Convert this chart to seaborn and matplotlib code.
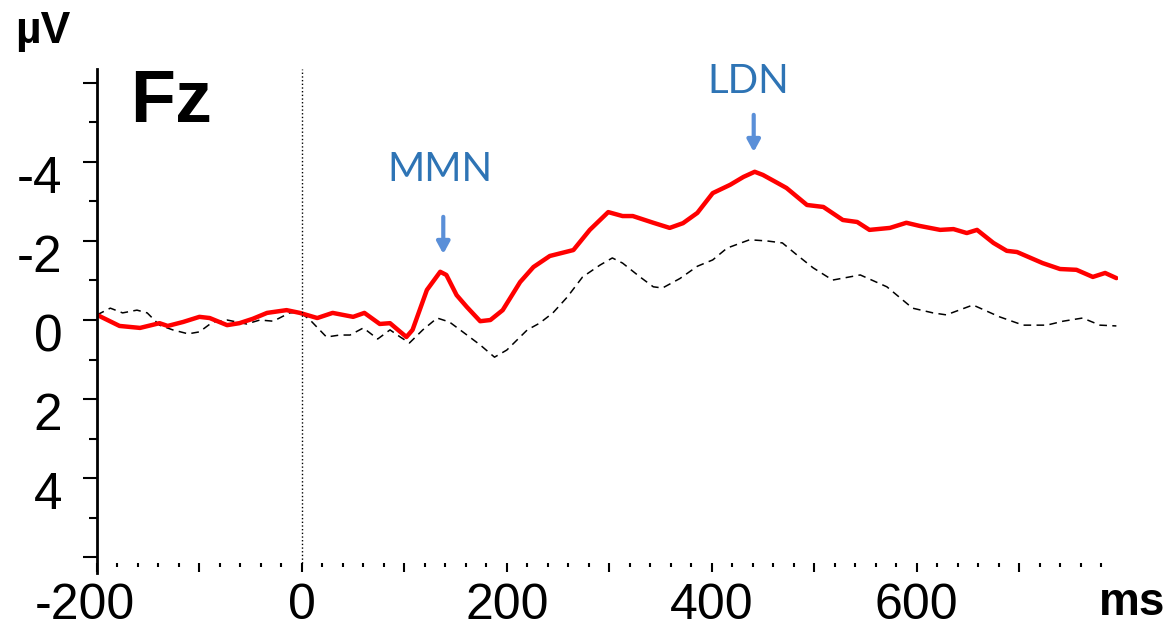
import matplotlib
matplotlib.use('Agg')
import matplotlib.pyplot as plt
import matplotlib.transforms as mtransforms
from matplotlib.ticker import MultipleLocator, FuncFormatter
import numpy as np
import pandas as pd
import seaborn as sns

# deviant (red) wave, ms / uV (negative up)
dev_ms = [-200, -178, -158, -139, -131, -116, -100, -90, -73, -61, -48, -34, -15, -2, 15, 30, 50, 61,
          76, 86, 102, 108, 122, 135, 141, 151, 161, 174, 184, 196, 213, 226, 242, 265, 281, 299,
          313, 323, 343, 359, 372, 386, 401, 418, 431, 442, 450, 464, 473, 493, 509, 528, 542,
          554, 574, 590, 603, 623, 636, 649, 659, 675, 688, 698, 723, 740, 756, 772, 784, 795]
dev_uv = [-0.13, 0.15, 0.2, 0.08, 0.15, 0.05, -0.08, -0.05, 0.13, 0.08, -0.03, -0.18, -0.25, -0.18,
          -0.05, -0.18, -0.08, -0.18, 0.1, 0.08, 0.43, 0.25, -0.76, -1.22, -1.14, -0.63, -0.33,
          0.03, 0.0, -0.25, -0.96, -1.34, -1.62, -1.77, -2.28, -2.73, -2.63, -2.63, -2.46, -2.33,
          -2.45, -2.71, -3.21, -3.42, -3.62, -3.75, -3.67, -3.47, -3.34, -2.91, -2.86, -2.53,
          -2.48, -2.28, -2.33, -2.46, -2.38, -2.28, -2.30, -2.2, -2.28, -1.95, -1.75, -1.72,
          -1.44, -1.29, -1.27, -1.09, -1.19, -1.06]

# standard (dashed) wave
std_ms = [-200, -187, -175, -161, -151, -139, -126, -111, -100, -87, -73, -54, -41, -28, -12, -2, 8,
          24, 37, 47, 60, 74, 86, 96, 105, 118, 132, 144, 157, 174, 188, 200, 220, 232, 245, 259,
          274, 291, 303, 313, 330, 343, 352, 369, 386, 401, 415, 437, 454, 469, 483, 499, 518,
          545, 571, 596, 616, 629, 655, 681, 704, 727, 743, 762, 779, 795]
std_uv = [-0.13, -0.3, -0.18, -0.25, -0.18, 0.13, 0.25, 0.35, 0.3, 0.05, 0.0, 0.1, 0.0, 0.03, -0.18,
          -0.2, 0.0, 0.43, 0.38, 0.38, 0.2, 0.48, 0.25, 0.43, 0.58, 0.25, -0.05, 0.05, 0.3, 0.63,
          0.94, 0.76, 0.25, 0.08, -0.18, -0.58, -1.09, -1.39, -1.57, -1.44, -1.09, -0.84, -0.81,
          -1.05, -1.36, -1.52, -1.82, -2.03, -2.0, -1.95, -1.65, -1.32, -1.01, -1.14, -0.84, -0.3,
          -0.18, -0.13, -0.38, -0.08, 0.13, 0.13, 0.03, -0.05, 0.13, 0.15]

# component labels: name, text x, text y, arrow tail y, arrow tip y
comp_names = ['MMN', 'LDN']
comp_text_ms = [135, 436]
comp_text_uv = [-3.82, -6.03]
comp_arrow_ms = [138, 441]
comp_tail_uv = [-2.61, -5.19]
comp_tip_uv = [-1.67, -4.25]

sns.set_style('ticks')
plt.rcParams['font.family'] = ['Liberation Sans', 'DejaVu Sans']
plt.rcParams['axes.unicode_minus'] = False
plt.rcParams['text.color'] = 'black'

W, H = 1166, 630
fig = plt.figure(figsize=(W / 100, H / 100), dpi=100)
x_left, x_right = -200, 797
px_ms = 1.0245
ax = fig.add_axes([97 / W, 1 - 573 / H, (x_right - x_left) * px_ms / W, (573 - 69) / H])

dev = pd.DataFrame({'ms': dev_ms, 'uv': dev_uv})
std = pd.DataFrame({'ms': std_ms, 'uv': std_uv})
sns.lineplot(data=std, x='ms', y='uv', ax=ax, color='black', lw=1.1,
             dashes=False, linestyle=(0, (5, 3.5)), estimator=None)
sns.lineplot(data=dev, x='ms', y='uv', ax=ax, color='#ff0000', lw=3.2, estimator=None)

ax.set_xlim(x_left, x_right)
ax.set_ylim(6.4, -6.35)
ax.axvline(0, ymin=0.02, ymax=1, color='black', lw=1.0, ls=':')

for sp in ['top', 'right']:
    ax.spines[sp].set_visible(False)
ax.spines['left'].set_linewidth(2)
ax.spines['left'].set_color('black')
ax.spines['bottom'].set_position(('data', 6.15))
ax.spines['bottom'].set_visible(False)

ax.yaxis.set_major_locator(MultipleLocator(2))
ax.yaxis.set_minor_locator(MultipleLocator(1))
ax.yaxis.set_major_formatter(FuncFormatter(lambda v, p: '' if abs(v) > 5 else f'{v:.0f}'))
ax.xaxis.set_major_locator(MultipleLocator(100))
ax.xaxis.set_minor_locator(MultipleLocator(20))
ax.xaxis.set_major_formatter(FuncFormatter(lambda v, p: f'{v:.0f}' if round(v) % 200 == 0 else ''))

ax.tick_params(axis='both', which='both', left=True, bottom=True, direction='out')
ax.tick_params(axis='y', which='major', length=10, width=1.5, pad=15, labelsize=37,
               colors='black', labelcolor='black')
ax.tick_params(axis='y', which='minor', length=6, width=1.5, colors='black')
ax.tick_params(axis='x', which='major', length=6.5, width=1.5, pad=8, labelsize=36,
               colors='black', labelcolor='black')
ax.tick_params(axis='x', which='minor', length=3, width=1.5, colors='black')
ax.set_xlabel('')
ax.set_ylabel('')

down = mtransforms.ScaledTranslation(0, -12 / 100, fig.dpi_scale_trans)
for lab in ax.get_yticklabels():
    lab.set_transform(lab.get_transform() + down)
left = mtransforms.ScaledTranslation(-12 / 100, 0, fig.dpi_scale_trans)
for lab in ax.get_xticklabels():
    if lab.get_text() == '-200':
        lab.set_transform(lab.get_transform() + left)

for name, tx, ty, axx, ta, tb in zip(comp_names, comp_text_ms, comp_text_uv,
                                      comp_arrow_ms, comp_tail_uv, comp_tip_uv):
    ax.text(tx, ty, name, color='#2E74B5', fontsize=29, ha='center', va='center',
            family=['Lato', 'DejaVu Sans'])
    ax.annotate('', xy=(axx, tb), xytext=(axx, ta),
                arrowprops=dict(arrowstyle='-|>,head_length=0.7,head_width=0.38',
                                color='#5A8FD8', lw=3, shrinkA=0, shrinkB=0))

fig.text(15 / W, 1 - 43 / H, 'µV', fontsize=32, fontweight='bold', va='baseline', color='black')
fig.text(130 / W, 1 - 122 / H, 'Fz', fontsize=53, fontweight='bold', va='baseline', color='black')
fig.text(1099 / W, 1 - 615 / H, 'ms', fontsize=33, fontweight='bold', va='baseline', color='black')

fig.savefig('out.png', dpi=100, facecolor='white')
